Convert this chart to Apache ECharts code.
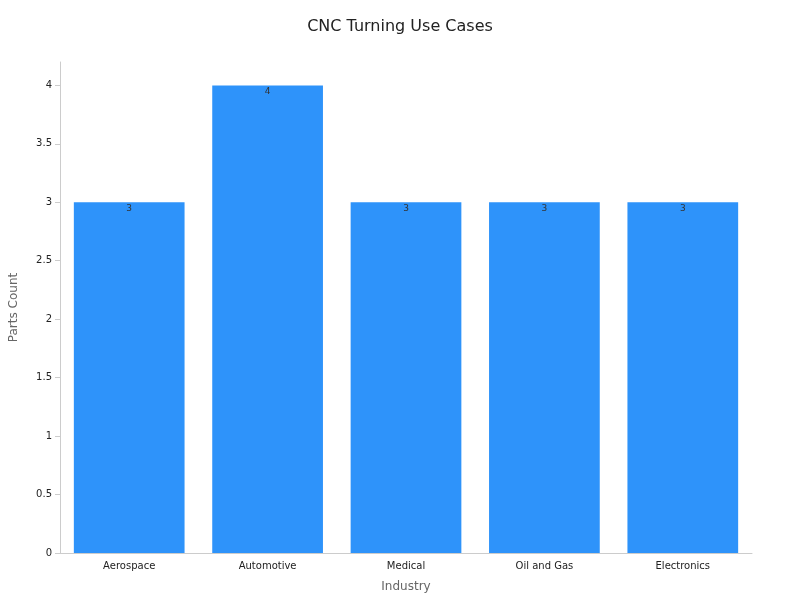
<!DOCTYPE html>
<html><head><meta charset="utf-8">
<script src="https://cdn.jsdelivr.net/npm/echarts@6/dist/echarts.min.js"></script>
<style>html,body{margin:0;padding:0;background:#fff}#c{width:800px;height:600px}</style>
</head><body><div id="c"></div>
<script>
const categories = ["Aerospace","Automotive","Medical","Oil and Gas","Electronics"];
const values = [3,4,3,3,3];
const chart = echarts.init(document.getElementById('c'));
chart.setOption({
  animation:false,
  title:{text:"CNC Turning Use Cases",left:'center',top:14,textStyle:{fontSize:16,fontWeight:'normal',color:'#222',fontFamily:'DejaVu Sans'}},
  grid:{left:50,right:48,top:62,bottom:47},
  xAxis:{type:'category',data:categories,name:'Industry',nameLocation:'middle',nameGap:28,
    nameTextStyle:{color:'#666',fontSize:12,fontFamily:'DejaVu Sans'},
    axisLine:{lineStyle:{color:'#ccc'}},axisTick:{show:false},
    axisLabel:{color:'#222',fontSize:10,fontFamily:'DejaVu Sans'}},
  yAxis:{type:'value',min:0,max:4.2,interval:0.5,name:'Parts Count',nameLocation:'middle',nameGap:40,
    nameTextStyle:{color:'#666',fontSize:12,fontFamily:'DejaVu Sans'},
    axisLine:{show:true,lineStyle:{color:'#ccc'}},axisTick:{show:true,lineStyle:{color:'#ccc'}},
    splitLine:{show:false},
    axisLabel:{color:'#222',fontSize:10,fontFamily:'DejaVu Sans',showMaxLabel:false}},
  series:[{type:'bar',data:values,barCategoryGap:'20%',
    itemStyle:{color:'#2e93fa'},
    label:{show:true,position:'insideTop',offset:[0,-3],color:'#333',fontSize:9,fontFamily:'DejaVu Sans'}}]
});
</script></body></html>
